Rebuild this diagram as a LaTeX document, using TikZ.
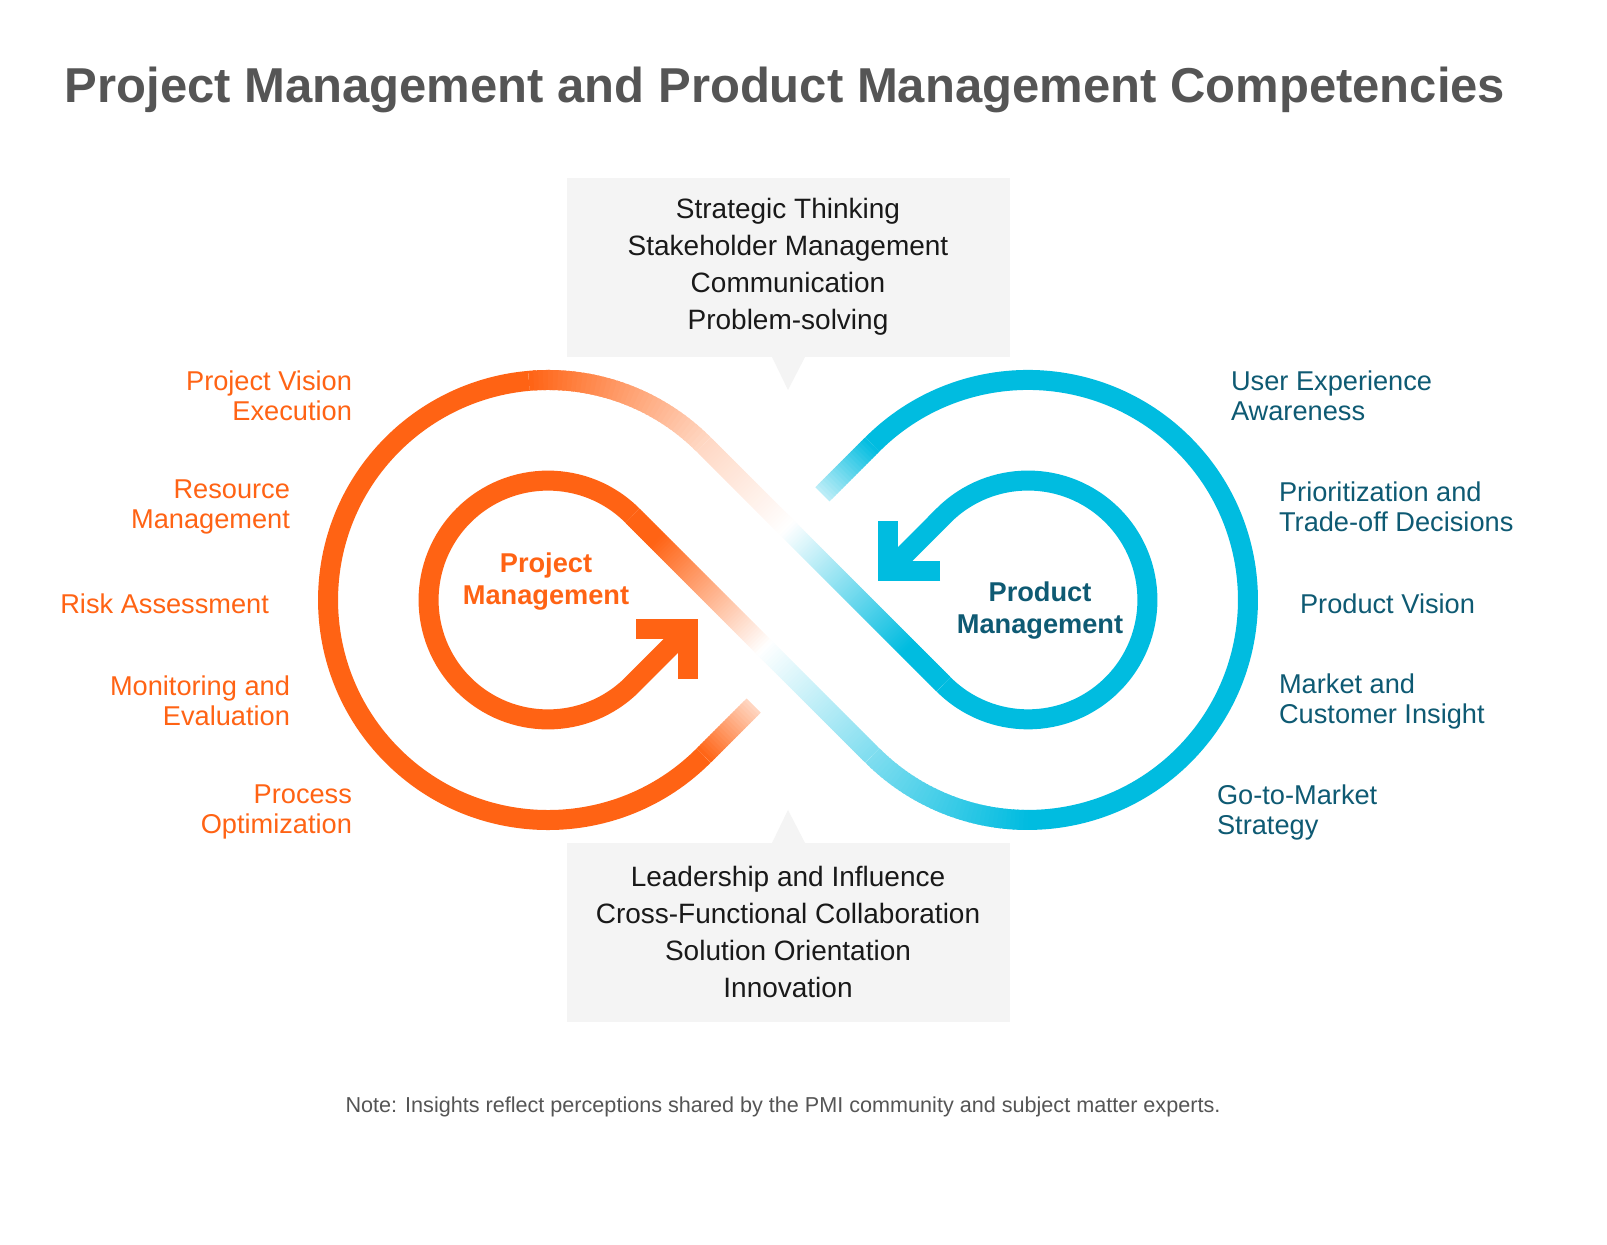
\documentclass[tikz,border=0pt]{standalone}
\usepackage{fontspec}
\setmainfont{Liberation Sans}
\begin{document}
\definecolor{or}{HTML}{FF6314}
\definecolor{cy}{HTML}{00BCE0}
\definecolor{teal}{HTML}{0E5A73}
\definecolor{ttl}{HTML}{555555}
\definecolor{boxg}{HTML}{F4F4F4}
\begin{tikzpicture}[x=0.5pt,y=0.5pt,
  seg/.style={line width=10pt,line cap=butt},
  olab/.style={text=or,font=\fontsize{13.6}{15}\selectfont,align=right,anchor=east},
  clab/.style={text=teal,font=\fontsize{13.6}{15}\selectfont,align=left,anchor=west},
  boxtxt/.style={font=\fontsize{14}{18.5}\selectfont,align=center,text=black!90}]
\useasboundingbox[fill=white] (0,0) rectangle (1607,1245);
\node[font=\bfseries\fontsize{24.5}{28}\selectfont,text=ttl] (title) at (785,1155) {Project Management and Product Management Competencies};
% boxes
\fill[boxg] (567,888) rectangle (1010,1067);
\fill[boxg] (772,888) -- (788,855) -- (805,888) -- cycle;
\node[boxtxt] (top) at (788,978) {Strategic Thinking\\Stakeholder Management\\Communication\\Problem-solving};
\fill[boxg] (567,223) rectangle (1010,402);
\fill[boxg] (772,402) -- (788,435) -- (805,402) -- cycle;
\node[boxtxt] (bot) at (788,313) {Leadership and Influence\\Cross-Functional Collaboration\\Solution Orientation\\Innovation};
% ===== Path 2: cyan outer -> orange inner
\foreach \i in {0,...,19}{
  \pgfmathsetmacro\ta{\i/20}\pgfmathsetmacro\tb{min(1,(\i+1.6)/20)}
  \pgfmathsetmacro\p{25+75*(\i+0.5)/20}
  \draw[seg,draw=cy!\p!white] ({822.4+50*\ta},{750.6+50*\ta}) -- ({822.4+50*\tb},{750.6+50*\tb});
}
\draw[seg,draw=cy] (872.4,800.6) arc[start angle=135,end angle=-90,radius=110pt];
\foreach \i in {0,...,39}{
  \pgfmathsetmacro\aa{-90-45*\i/40}\pgfmathsetmacro\ab{max(-135,-90-45*(\i+1.6)/40)}
  \pgfmathsetmacro\p{100-50*(\i+0.5)/40}
  \draw[seg,draw=cy!\p!white] ({1028+220*cos(\aa)},{645+220*sin(\aa)}) arc[start angle=\aa,end angle=\ab,radius=110pt];
}
\foreach \i in {0,...,119}{
  \pgfmathsetmacro\ta{\i/120}\pgfmathsetmacro\tb{min(1,(\i+1.6)/120)}
  \pgfmathsetmacro\tm{(\i+0.5)/120}
  \pgfmathsetmacro\pc{max(0,50*(1-\tm/0.45))}
  \pgfmathsetmacro\po{min(100,max(0,(\tm-0.45)/0.45*100))}
  \ifdim\tm pt<0.45pt \def\col{cy!\pc!white}\else\def\col{or!\po!white}\fi
  \draw[seg,draw=\col] ({872.4-240*\ta},{489.4+240*\ta}) -- ({872.4-240*\tb},{489.4+240*\tb});
}
\draw[seg,draw=or] (632.4,729.4) arc[start angle=45,end angle=315,radius=59.7pt] -- (688,616.2);
\draw[seg,draw=or,line join=miter] (636,616.2) -- (688,616.2) -- (688,566.2);
% ===== Path 1: orange outer -> cyan inner
\foreach \i in {0,...,19}{
  \pgfmathsetmacro\ta{\i/20}\pgfmathsetmacro\tb{min(1,(\i+1.6)/20)}
  \pgfmathsetmacro\p{25+75*(\i+0.5)/20}
  \draw[seg,draw=or!\p!white] ({753.6-50*\ta},{539.4-50*\ta}) -- ({753.6-50*\tb},{539.4-50*\tb});
}
\draw[seg,draw=or] (703.6,489.4) arc[start angle=-45,end angle=-265,radius=110pt];
\foreach \i in {0,...,39}{
  \pgfmathsetmacro\aa{95-50*\i/40}\pgfmathsetmacro\ab{max(45,95-50*(\i+1.6)/40)}
  \pgfmathsetmacro\p{100-75*(\i+0.5)/40}
  \draw[seg,draw=or!\p!white] ({548+220*cos(\aa)},{645+220*sin(\aa)}) arc[start angle=\aa,end angle=\ab,radius=110pt];
}
\foreach \i in {0,...,119}{
  \pgfmathsetmacro\ta{\i/120}\pgfmathsetmacro\tb{min(1,(\i+1.6)/120)}
  \pgfmathsetmacro\tm{(\i+0.5)/120}
  \pgfmathsetmacro\po{max(0,25*(1-\tm/0.35))}
  \pgfmathsetmacro\pc{min(100,max(0,(\tm-0.35)/0.5*100))}
  \ifdim\tm pt<0.35pt \def\col{or!\po!white}\else\def\col{cy!\pc!white}\fi
  \draw[seg,draw=\col] ({703.6+240*\ta},{800.6-240*\ta}) -- ({703.6+240*\tb},{800.6-240*\tb});
}
\draw[seg,draw=cy] (943.6,560.6) arc[start angle=225,end angle=495,radius=59.7pt] -- (888,673.8);
\draw[seg,draw=cy,line join=miter] (940,673.8) -- (888,673.8) -- (888,723.8);
% centre labels
\node[text=or,font=\bfseries\fontsize{13.6}{16}\selectfont,align=center] (pm) at (546,663) {Project\\Management};
\node[text=teal,font=\bfseries\fontsize{13.6}{16}\selectfont,align=center] (prm) at (1040,634) {Product\\Management};
% side labels
\node[olab] (l1) at (359,849) {Project Vision\\Execution};
\node[olab] (l2) at (297,738) {Resource\\Management};
\node[olab] (l3) at (276,641) {Risk Assessment};
\node[olab] (l4) at (297,544) {Monitoring and\\Evaluation};
\node[olab] (l5) at (359,433) {Process\\Optimization};
\node[clab] (r1) at (1224,849) {User Experience\\Awareness};
\node[clab] (r2) at (1272,738) {Prioritization and\\Trade-off Decisions};
\node[clab] (r3) at (1293,641) {Product Vision};
\node[clab] (r4) at (1272,544) {Market and\\Customer Insight};
\node[clab] (r5) at (1210,433) {Go-to-Market\\Strategy};
\node[text=ttl,font=\fontsize{10.8}{12}\selectfont] (note) at (783,138) {Note: Insights reflect perceptions shared by the PMI community and subject matter experts.};
\end{tikzpicture}
\end{document}
